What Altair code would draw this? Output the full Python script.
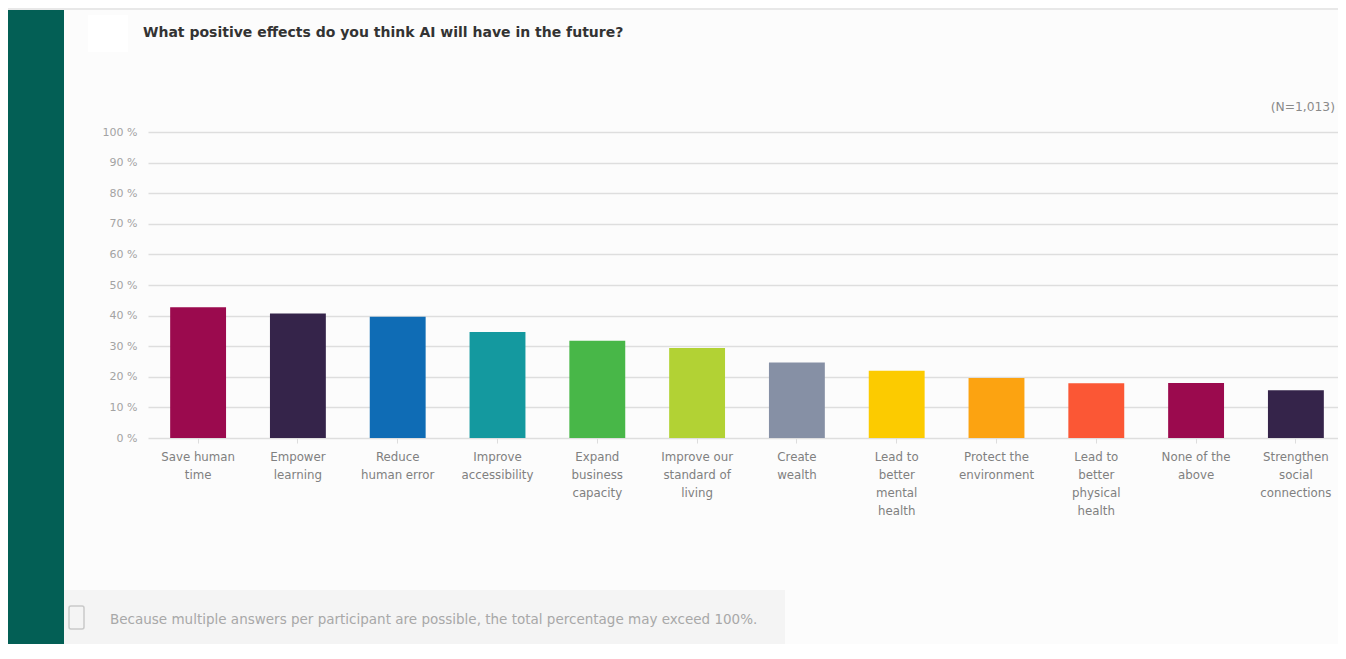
import json
import altair as alt
import pandas as pd

categories = [
    "Save human time", "Empower learning", "Reduce human error",
    "Improve accessibility", "Expand business capacity",
    "Improve our standard of living", "Create wealth",
    "Lead to better mental health", "Protect the environment",
    "Lead to better physical health", "None of the above",
    "Strengthen social connections",
]
label_lines = [
    ["Save human", "time"], ["Empower", "learning"], ["Reduce", "human error"],
    ["Improve", "accessibility"], ["Expand", "business", "capacity"],
    ["Improve our", "standard of", "living"], ["Create", "wealth"],
    ["Lead to", "better", "mental", "health"], ["Protect the", "environment"],
    ["Lead to", "better", "physical", "health"], ["None of the", "above"],
    ["Strengthen", "social", "connections"],
]
values = [42.7, 40.7, 39.6, 34.6, 31.8, 29.4, 24.7, 22.0, 19.6, 17.9, 18.0, 15.6]
colors = [
    "#9b0a4e", "#35244a", "#0f6cb5", "#14999f", "#48b748", "#b2d234",
    "#8690a5", "#fccb00", "#fca311", "#fb5735", "#9b0a4e", "#35244a",
]

title_text = "What positive effects do you think AI will have in the future?"
n_text = "(N=1,013)"
note_text = ("Because multiple answers per participant are possible, "
             "the total percentage may exceed 100%.")

df = pd.DataFrame({"category": categories, "value": values})
label_map = dict(zip(categories, label_lines))
label_expr = json.dumps(label_map) + "[datum.value]"

FONT = "DejaVu Sans"
one = alt.Data(values=[{}])

bars = alt.Chart(df).mark_bar().encode(
    x=alt.X("category:N", sort=categories,
            scale=alt.Scale(paddingInner=0.44, paddingOuter=0.182, align=0.61),
            axis=alt.Axis(title=None, labelAngle=0, labelExpr=label_expr,
                          labelFont=FONT, labelFontSize=11.8, labelColor="#808080",
                          labelLineHeight=18, labelPadding=8, labelBaseline="top",
                          domain=False, ticks=True, tickSize=5, tickColor="#dddddd",
                          labelLimit=200)),
    y=alt.Y("value:Q", scale=alt.Scale(domain=[0, 100], nice=False),
            axis=alt.Axis(title=None, values=list(range(0, 101, 10)),
                          labelExpr="datum.value + ' %'", labelFont=FONT,
                          labelFontSize=11, labelColor="#a3a3a3", labelPadding=11,
                          ticks=False, domain=False, grid=True,
                          gridColor="#dedede", gridWidth=1.3)),
    color=alt.Color("category:N", sort=categories,
                    scale=alt.Scale(domain=categories, range=colors), legend=None),
)

top_band = alt.Chart(one).mark_rect(color="#e8e8e8").encode(
    x=alt.value(-140), x2=alt.value(1190), y=alt.value(-124), y2=alt.value(-122))
green = alt.Chart(one).mark_rect(color="#035f55").encode(
    x=alt.value(-140), x2=alt.value(-84), y=alt.value(-122), y2=alt.value(520))
white_box = alt.Chart(one).mark_rect(color="#ffffff").encode(
    x=alt.value(-60), x2=alt.value(-20), y=alt.value(-117), y2=alt.value(-80))
title = alt.Chart(one).mark_text(
    text=title_text, font=FONT, fontSize=14, fontWeight="bold", color="#333333",
    align="left", baseline="middle").encode(x=alt.value(-5), y=alt.value(-99))
n_label = alt.Chart(one).mark_text(
    text=n_text, font=FONT, fontSize=12.3, color="#8a8a8a",
    align="right", baseline="middle").encode(x=alt.value(1187), y=alt.value(-25))
note_box = alt.Chart(one).mark_rect(color="#f4f4f4").encode(
    x=alt.value(-84), x2=alt.value(637), y=alt.value(458), y2=alt.value(520))
note_icon = alt.Chart(one).mark_rect(
    fill="#f4f4f4", stroke="#c9c9c9", strokeWidth=1.5, cornerRadius=2).encode(
    x=alt.value(-79), x2=alt.value(-64), y=alt.value(474), y2=alt.value(497))
note = alt.Chart(one).mark_text(
    text=note_text, font=FONT, fontSize=13.5, color="#a8a8a8",
    align="left", baseline="middle").encode(x=alt.value(-38), y=alt.value(488))

chart = alt.layer(
    top_band, green, white_box, note_box, note_icon, bars, title, n_label, note
).properties(
    width=1190, height=306,
    padding={"left": 140, "top": 124, "right": 0, "bottom": 206},
    autosize=alt.AutoSizeParams(type="none"),
    background="#fcfcfc",
).configure_view(stroke=None)

chart.save("out.html", embed_options={"renderer": "svg", "actions": False})
